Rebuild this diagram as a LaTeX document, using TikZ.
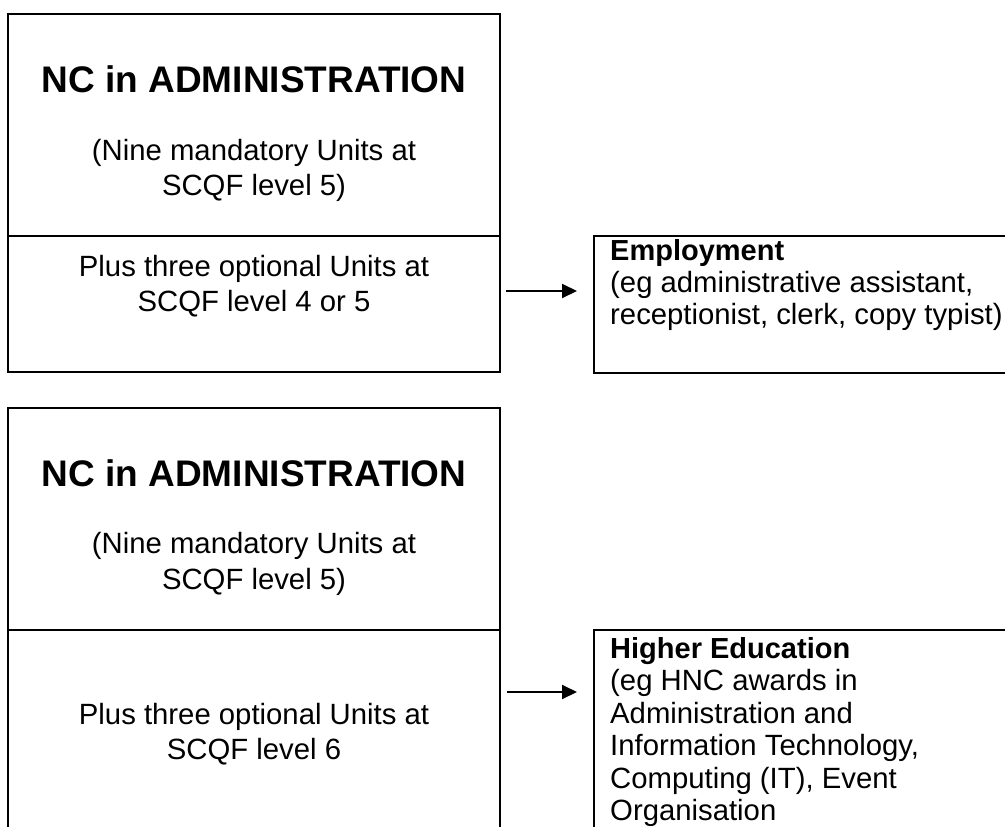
\documentclass[tikz,border=0pt]{standalone}
\usepackage{fontspec}
\setmainfont{Liberation Sans}
\usetikzlibrary{arrows.meta}
\begin{document}
\begin{tikzpicture}[x=1pt,y=-1pt,
  sect/.style={draw, line width=2pt, inner sep=0pt, outer sep=0pt, anchor=north west, minimum width=492pt},
  outbox/.style={draw, line width=2pt, inner sep=0pt, outer sep=0pt, anchor=north west, minimum width=420pt},
  body/.style={font=\fontsize{29.3}{36}\selectfont, inner sep=0pt, anchor=base},
  bodyl/.style={font=\fontsize{29.3}{36}\selectfont, inner sep=0pt, anchor=base west},
  boldl/.style={font=\fontsize{29}{36}\selectfont\bfseries, inner sep=0pt, anchor=base west},
  title/.style={font=\fontsize{37}{44}\selectfont\bfseries, inner sep=0pt, anchor=base},
  arr/.style={line width=2pt, -{Triangle[length=15pt,width=14pt]}}
]
\useasboundingbox (0,0) rectangle (1005,827);
\fill[white] (0,0) rectangle (1005,827);
\clip (0,0) rectangle (1005,827);

% ---- first NC box ----
\node[sect, minimum height=222pt] (nc1top) at (8,14) {};
\node[sect, minimum height=136pt] (nc1low) at (8,236) {};
\node[title] (t1) at (254,92) {NC in ADMINISTRATION};
\node[body] (t1a) at (254,160) {(Nine mandatory Units at};
\node[body] (t1b) at (254,195.5) {SCQF level 5)};
\node[body] (t1c) at (254,276) {Plus three optional Units at};
\node[body] (t1d) at (254,311.5) {SCQF level 4 or 5};

% ---- employment box ----
\node[outbox, minimum height=137pt] (emp) at (594,236) {};
\node[boldl] (e1) at (610,260) {Employment};
\node[bodyl] (e2) at (610,292) {(eg administrative assistant,};
\node[bodyl] (e3) at (610,324) {receptionist, clerk, copy typist)};

\coordinate (a1s) at (506,291);
\coordinate (a1e) at (577,291);
\draw[arr] (a1s) -- (a1e);

% ---- second NC box ----
\node[sect, minimum height=222pt] (nc2top) at (8,408) {};
\node[sect, minimum height=240pt] (nc2low) at (8,630) {};
\node[title] (t2) at (254,486) {NC in ADMINISTRATION};
\node[body] (t2a) at (254,553.5) {(Nine mandatory Units at};
\node[body] (t2b) at (254,589) {SCQF level 5)};
\node[body] (t2c) at (254,724) {Plus three optional Units at};
\node[body] (t2d) at (254,759.5) {SCQF level 6};

% ---- higher education box ----
\node[outbox, minimum height=240pt] (he) at (594,630) {};
\node[boldl] (h1) at (610,658) {Higher Education};
\node[bodyl] (h2) at (610,690.5) {(eg HNC awards in};
\node[bodyl] (h3) at (610,723) {Administration and};
\node[bodyl] (h4) at (610,755.5) {Information Technology,};
\node[bodyl] (h5) at (610,788) {Computing (IT), Event};
\node[bodyl] (h6) at (610,820.5) {Organisation};

\coordinate (a2s) at (507,692);
\coordinate (a2e) at (577,692);
\draw[arr] (a2s) -- (a2e);
\end{tikzpicture}
\end{document}
